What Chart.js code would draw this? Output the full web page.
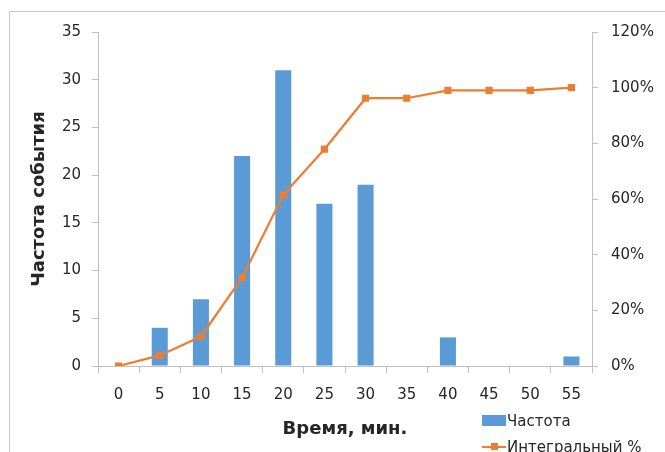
<!DOCTYPE html>
<html>
<head>
<meta charset="utf-8">
<script src="https://cdn.jsdelivr.net/npm/chart.js@4.4.1/dist/chart.umd.min.js"></script>
<style>
  html, body { margin: 0; padding: 0; background: #fff; }
  body { width: 665px; height: 452px; overflow: hidden; position: relative; }
  #frame { position: absolute; left: 9px; top: 11px; width: 700px; height: 500px;
           border-left: 1px solid #c8c8c8; border-top: 1px solid #c8c8c8; }
  #wrap { position: absolute; left: 0; top: 0; width: 665px; height: 452px; }
  .lg { position: absolute; font: 15px "DejaVu Sans", sans-serif; color: #262626; white-space: nowrap; line-height: 18px; }
  .box { position: absolute; background: #5B9BD5; }
  .ln { position: absolute; background: #ED7D31; }
</style>
</head>
<body>
<div id="frame"></div>
<div id="wrap"><canvas id="chart" width="665" height="452"></canvas></div>

<div class="box" style="left:482px; top:415px; width:24px; height:11px;"></div>
<div class="lg" id="lg1" style="left:507px; top:412px;"></div>
<div class="ln" style="left:482px; top:446px; width:24px; height:2px;"></div>
<div class="ln" style="left:491px; top:443px; width:7px; height:7px;"></div>
<div class="lg" id="lg2" style="left:507px; top:438px;"></div>

<script>
// значения
const timeLabels = ['0', '5', '10', '15', '20', '25', '30', '35', '40', '45', '50', '55'];
const freqValues = [0, 4, 7, 22, 31, 17, 19, 0, 3, 0, 0, 1];
const cumPercent = [0, 3.8, 10.6, 31.7, 61.5, 77.9, 96.2, 96.2, 99.0, 99.0, 99.0, 100];

const freqName = 'Частота';
const cumName = 'Интегральный %';
const xTitle = 'Время, мин.';
const yTitle = 'Частота события';

document.getElementById('lg1').textContent = freqName;
document.getElementById('lg2').textContent = cumName;

const axisColor = '#c0c0c0';
const textColor = '#262626';
const tickFont = { family: 'DejaVu Sans', size: 15 };
const titleFont = { family: 'DejaVu Sans', size: 18, weight: 'bold' };

const ctx = document.getElementById('chart').getContext('2d');
new Chart(ctx, {
  data: {
    labels: timeLabels,
    datasets: [
      {
        type: 'line',
        label: cumName,
        data: cumPercent,
        yAxisID: 'y2',
        borderColor: '#ED7D31',
        backgroundColor: '#ED7D31',
        borderWidth: 2.25,
        pointStyle: 'rect',
        pointRadius: 3.5,
        tension: 0,
        order: 0
      },
      {
        type: 'bar',
        label: freqName,
        data: freqValues,
        yAxisID: 'y',
        backgroundColor: '#5B9BD5',
        barPercentage: 0.39,
        categoryPercentage: 1,
        order: 1
      }
    ]
  },
  options: {
    responsive: false,
    animation: false,
    layout: { padding: { top: 32, left: 0, right: 0, bottom: 0 } },
    plugins: {
      legend: { display: false },
      tooltip: { enabled: false }
    },
    scales: {
      x: {
        offset: true,
        grid: { offset: true, drawOnChartArea: false, color: axisColor, tickLength: 7 },
        border: { color: axisColor },
        ticks: { color: textColor, font: tickFont, padding: 13, maxRotation: 0 },
        title: { display: true, text: xTitle, color: textColor, font: titleFont, padding: { top: 0, bottom: 12 } },
        afterFit: (scale) => { scale.height = 86; }
      },
      y: {
        position: 'left',
        min: 0,
        max: 35,
        ticks: { stepSize: 5, color: textColor, font: tickFont, padding: 11 },
        grid: { drawOnChartArea: false, color: axisColor, tickLength: 6 },
        border: { color: axisColor },
        title: { display: true, text: yTitle, color: textColor, font: titleFont, padding: { top: 29, bottom: 0 } },
        afterFit: (scale) => { scale.width = 98; }
      },
      y2: {
        position: 'right',
        min: 0,
        max: 120,
        ticks: { stepSize: 20, color: textColor, font: tickFont, padding: 13,
                 callback: (v) => v + '%' },
        grid: { drawOnChartArea: false, color: axisColor, tickLength: 6 },
        border: { color: axisColor },
        afterFit: (scale) => { scale.width = 73; }
      }
    }
  }
});
</script>
</body>
</html>
